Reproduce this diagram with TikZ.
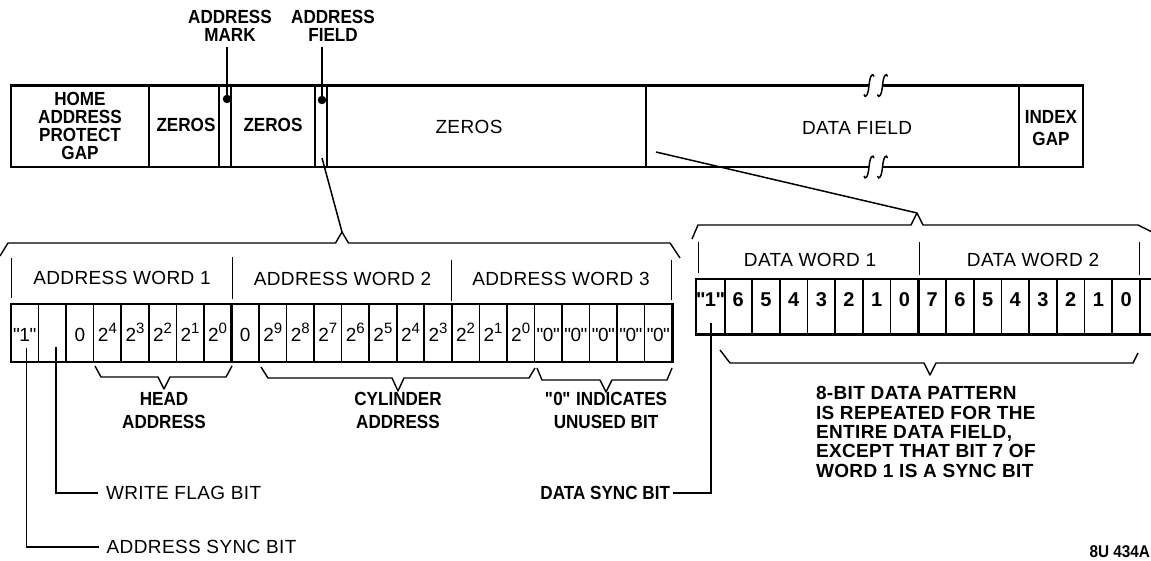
\documentclass[tikz,border=0pt]{standalone}
\usepackage{fontspec}
\setmainfont{Liberation Sans}[LetterSpace=2]
\newfontfamily\cnd{Liberation Sans}[FakeStretch=0.9]
\newcommand\cfont[1]{\cnd\bfseries\fontsize{19}{#1}\selectfont}
\newcommand\rfont[1]{\fontsize{19}{#1}\selectfont}
\newcommand\pw[1]{2\raisebox{8pt}{\fontsize{15}{15}\selectfont #1}}
\newcommand\qq[1]{{\addfontfeatures{LetterSpace=0}\textquotedbl\kern-0.5pt#1\kern-0.5pt\textquotedbl}}
\tikzset{
  every node/.style={inner sep=0pt, outer sep=0pt},
  barline/.style={line width=2.4pt},
  divline/.style={line width=1.8pt},
  lead/.style={line width=1.5pt},
  brace/.style={line width=1.4pt, line join=round},
  tick/.style={line width=1.4pt},
  outerline/.style={line width=2.6pt},
  cellA/.style={draw, line width=1.6pt, minimum width=27.55pt, minimum height=58pt, text height=17pt, text depth=0pt, font=\rfont{20}},
  cellD/.style={draw, line width=1.6pt, minimum width=27.7pt, minimum height=55.3pt, text height=8pt, text depth=8pt, font=\bfseries\fontsize{20}{22}\selectfont},
  dot/.style={circle, fill, minimum size=8.5pt},
  brkmark/.pic={\draw[lead] (-5,9) .. controls (-4,13) and (-1,11) .. (0,0) .. controls (1,-11) and (4,-13) .. (5,-9);},
}
\begin{document}
\begin{tikzpicture}[x=1pt,y=-1pt]
\useasboundingbox (0,0) rectangle (1151,561);
\clip (0,0) rectangle (1151,561);

% ---------- top bar ----------
\draw[barline] (869,85.5) -- (11,85.5) -- (11,167) -- (869,167);
\draw[barline] (882.5,85.5) -- (1083,85.5) -- (1083,167) -- (882.5,167);
\pic at (869,85.5) {brkmark};
\pic at (882.5,85.5) {brkmark};
\pic at (869,167) {brkmark};
\pic at (882.5,167) {brkmark};
\foreach \x in {149,219,231,315,327,646,1019} \draw[divline] (\x,85.5) -- (\x,167);

\node[align=center, font=\cfont{18}] (hapg) at (80,126) {HOME\\ADDRESS\\PROTECT\\GAP};
\node[font=\cfont{20}] (zr1) at (186,125) {ZEROS};
\node[font=\cfont{20}] (zr2) at (273,125) {ZEROS};
\node[font=\rfont{20}] (zr3) at (469,127) {ZEROS};
\node[font=\rfont{20}] (dfield) at (857,128) {DATA FIELD};
\node[align=center, font=\cfont{22}] (igap) at (1051,128) {INDEX\\GAP};

% marks
\node[dot] (amdot) at (227,99) {};
\node[dot] (afdot) at (322,100) {};
\node[align=center, font=\cfont{18}] (amark) at (230,26) {ADDRESS\\MARK};
\node[align=center, font=\cfont{18}] (afield) at (333,26) {ADDRESS\\FIELD};
\draw[lead, shorten >=5pt] (amdot.center) -- (amdot |- amark.south);
\draw[lead, shorten >=5pt] (afdot.center) -- (afdot |- afield.south);

% connectors to expansions
\coordinate (afbot) at (322,158);
\coordinate (abapex) at (342,232);
\draw[lead] (afbot) -- (abapex);
\coordinate (dfpt) at (656,152);
\coordinate (dbapex) at (917,213);
\draw[lead] (dfpt) -- (dbapex);

% ---------- address words ----------
\draw[brace] (0,256) -- (8,243) -- (335.5,243) -- (abapex) -- (348.5,243) -- (670,243) -- (680,258);
\foreach \x/\a/\b in {11.7/258/298, 232.5/257/299, 451.7/260/301, 671.7/260/300}
  \draw[tick] (\x,\a) -- (\x,\b);
\node[font=\rfont{20}] (aw1) at (122,278) {ADDRESS WORD 1};
\node[font=\rfont{20}] (aw2) at (342.5,279) {ADDRESS WORD 2};
\node[font=\rfont{20}] (aw3) at (561,279) {ADDRESS WORD 3};

\foreach \t [count=\i from 0] in {{\qq1},{},0,\pw4,\pw3,\pw2,\pw1,\pw0,0,\pw9,\pw8,\pw7,\pw6,\pw5,\pw4,\pw3,\pw2,\pw1,\pw0,{\qq0},{\qq0},{\qq0},{\qq0},{\qq0}}
  \node[cellA] (a\i) at ({11+(\i+0.5)*27.55},333) {\t};
\draw[outerline] (a0.north west) rectangle (a23.south east);
\draw[outerline] (a7.north east) -- (a7.south east);
\draw[outerline] (a15.north east) -- (a15.south east);

% address brackets below
\coordinate (hv) at (164,389);
\coordinate (cv) at (398,391);
\coordinate (uv) at (606,392);
\draw[brace] (95,366) -- (101,377) -- (158,377) -- (hv) -- (170,377) -- (226,377) -- (232,366);
\draw[brace] (261,367) -- (268,378) -- (392,378) -- (cv) -- (404,378) -- (529,378) -- (535,368);
\draw[brace] (537,368) -- (542,380) -- (600,380) -- (uv) -- (612,380) -- (667,380) -- (672,368);
\node[align=center, font=\cfont{23}] (hadr) at (164,410.5) {HEAD\\ADDRESS};
\node[align=center, font=\cfont{23}] (cadr) at (398,410.5) {CYLINDER\\ADDRESS};
\node[align=center, font=\cfont{23}] (unus) at (606,410.5) {\qq0 INDICATES\\UNUSED BIT};

% leaders address
\coordinate (s0) at (26.5,348);
\coordinate (w0) at (56,347);
\node[anchor=west, font=\rfont{20}] (wfl) at (106,493) {WRITE FLAG BIT};
\node[anchor=west, font=\rfont{20}] (asb) at (106.7,547) {ADDRESS SYNC BIT};
\draw[lead, shorten >=8pt] (w0) |- (wfl.west);
\draw[lead, shorten >=8pt] (s0) |- (asb.west);

% ---------- data words ----------
\draw[brace] (692,239) -- (698,225) -- (911,225) -- (dbapex) -- (923,225) -- (1138,225) -- (1160,236);
\foreach \x/\a/\b in {698.3/241.7/273.3, 919.5/241.7/275, 1139.3/241.7/275}
  \draw[tick] (\x,\a) -- (\x,\b);
\node[font=\rfont{20}] (dw1) at (810,260) {DATA WORD 1};
\node[font=\rfont{20}] (dw2) at (1033,260) {DATA WORD 2};

\foreach \t [count=\i from 0] in {{\qq1},6,5,4,3,2,1,0,7,6,5,4,3,2,1,0}
  \node[cellD] (d\i) at ({696.7+(\i+0.5)*27.7},306.7) {\t};
\draw[outerline] (d0.north west) rectangle (d15.south east);
\draw[outerline] (d7.north east) -- (d7.south east);
\draw[outerline] (d15.north east) -- ++(20,0);
\draw[outerline] (d15.south east) -- ++(20,0);

\coordinate (dv) at (930,375);
\draw[brace] (720,350) -- (730,363) -- (924,363) -- (dv) -- (936,363) -- (1133,363) -- (1138,353);
\node[anchor=west, align=left, font=\bfseries\fontsize{19}{19.3}\selectfont] (patt) at (816,432)
  {8-BIT DATA PATTERN\\IS REPEATED FOR THE\\ENTIRE DATA FIELD,\\EXCEPT THAT BIT 7 OF\\WORD 1 IS A SYNC BIT};

\coordinate (ds0) at (711,323);
\node[anchor=east, font=\cfont{20}] (dsb) at (670,493) {DATA SYNC BIT};
\draw[lead, shorten >=3pt] (ds0) |- (dsb.east);

\node[anchor=east, font=\cnd\bfseries\fontsize{17}{18}\selectfont] (fig) at (1150,552) {8U 434A};
\end{tikzpicture}
\end{document}
